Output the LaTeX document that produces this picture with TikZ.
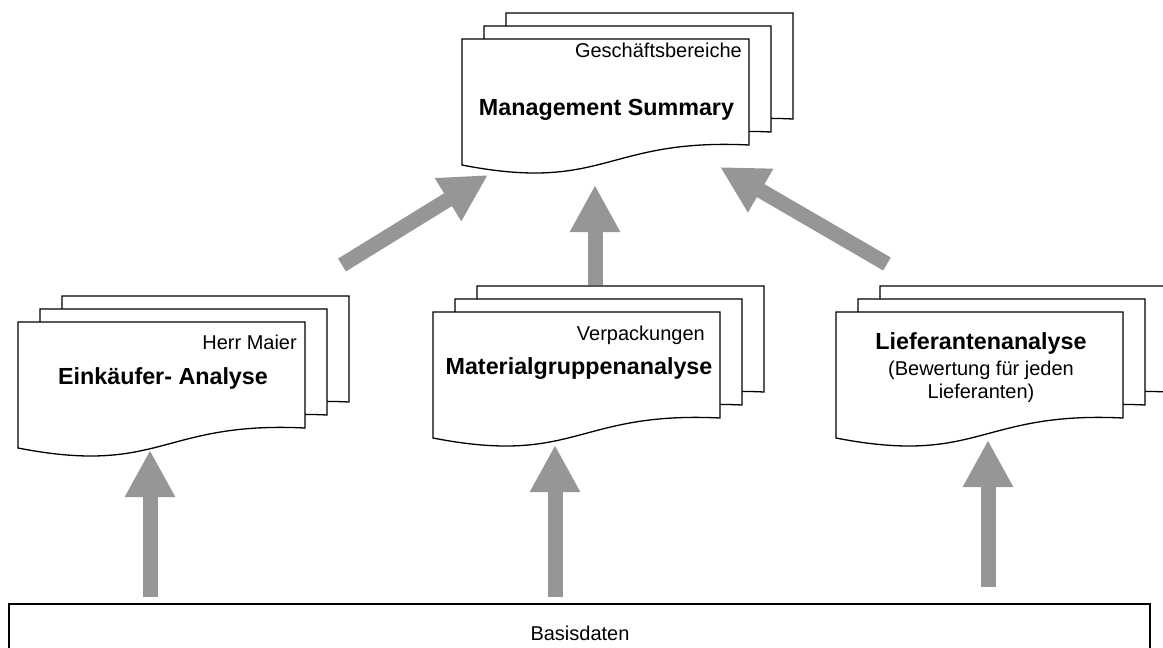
\documentclass[tikz,border=0pt]{standalone}
\usepackage{fontspec}
\setmainfont{Liberation Sans}
\usetikzlibrary{arrows.meta}
\definecolor{arrowgray}{RGB}{150,150,150}
\tikzset{
  docline/.style={draw=black, fill=white, line width=1.3pt, line join=miter},
  docpage/.pic={\path[docline] (0,0) -- (287,0) -- (287,106) .. controls (143.5,99) and (143.5,154) .. (0,126) -- cycle;},
  docstack/.pic={\pic at (44,-26) {docpage}; \pic at (22,-13) {docpage}; \pic at (0,0) {docpage};},
  bigarrow/.style={draw=arrowgray, line width=15pt, -{Triangle[width=47pt,length=47pt]}},
  smalltxt/.style={inner sep=0pt, font=\fontsize{20}{23}\selectfont},
  boldtxt/.style={inner sep=0pt, font=\fontsize{23.3}{27}\selectfont\bfseries},
}
\begin{document}
\begin{tikzpicture}[x=1pt,y=-1pt]
\useasboundingbox (0,0) rectangle (1163,648);
\clip (0,0) rectangle (1163,648);
\fill[white] (0,0) rectangle (1163,648);

% Basisdaten
\draw[line width=1.3pt] (9,604) rectangle (1150,680);
\node[smalltxt, anchor=base] (basis) at (580,640) {Basisdaten};

% document stacks
\pic at (462,39) {docstack};
\pic at (18,322) {docstack};
\pic at (433,312) {docstack};
\pic at (836,312) {docstack};

% texts
\node[smalltxt, anchor=base east] (gb) at (742,57) {Geschäftsbereiche};
\node[boldtxt, anchor=base] (ms) at (606.5,115) {Management Summary};
\node[smalltxt, anchor=base east] (hm) at (297,349) {Herr Maier};
\node[boldtxt, anchor=base] (ek) at (163,384) {Einkäufer- Analyse};
\node[smalltxt, anchor=base east] (vp) at (705,340) {Verpackungen};
\node[boldtxt, anchor=base] (mg) at (579,374) {Materialgruppenanalyse};
\node[boldtxt, anchor=base] (la) at (981,349) {Lieferantenanalyse};
\node[smalltxt, anchor=base, align=center] (lb) at (981,398) {(Bewertung für jeden\\Lieferanten)};

% arrow end points
\coordinate (ms-l) at (488,175);
\coordinate (ms-m) at (595,185);
\coordinate (ms-r) at (720,167);
\coordinate (ek-out) at (342,265);
\coordinate (mg-out) at (595,285);
\coordinate (la-out) at (887,264);
\coordinate (ek-in) at (150,450);
\coordinate (mg-in) at (555,445);
\coordinate (la-in) at (988,440);
\coordinate (b-l) at (150,597);
\coordinate (b-m) at (555,597);
\coordinate (b-r) at (988,587);

% arrows
\draw[bigarrow] (ek-out) -- (ms-l);
\draw[bigarrow] (mg-out) -- (ms-m);
\draw[bigarrow] (la-out) -- (ms-r);
\draw[bigarrow] (b-l) -- (ek-in);
\draw[bigarrow] (b-m) -- (mg-in);
\draw[bigarrow] (b-r) -- (la-in);
\end{tikzpicture}
\end{document}
